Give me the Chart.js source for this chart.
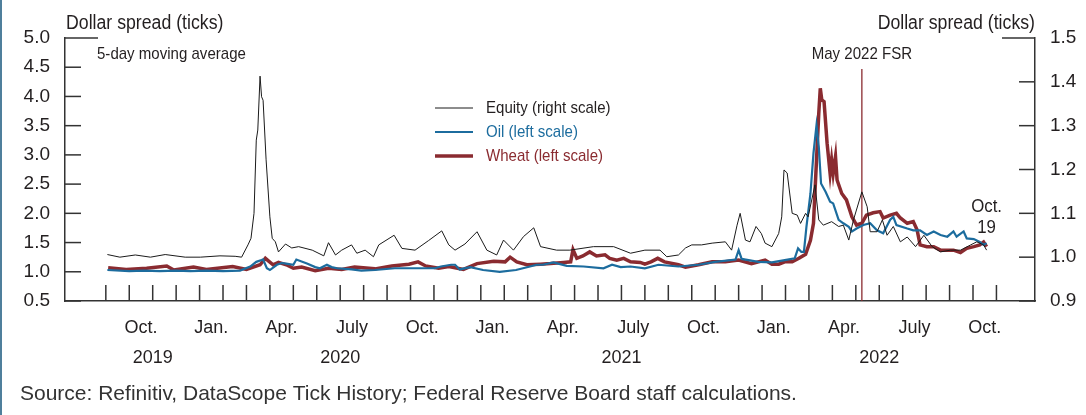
<!DOCTYPE html>
<html>
<head>
<meta charset="utf-8">
<script src="https://cdn.jsdelivr.net/npm/chart.js@4.4.0/dist/chart.umd.min.js"></script>
<style>
    html, body { margin: 0; padding: 0; background: #fff; }
    #wrap { position: relative; width: 1086px; height: 415px; }
    #wrap:before { content: ''; position: absolute; left: 0; top: 0; bottom: 0; width: 2px; background: #4f7f9c; }
</style>
</head>
<body>
<div id="wrap"><canvas id="chart" width="1086" height="415"></canvas></div>
<script>
// 5-day moving averages
const equityDates = ['2019-09-03','2019-09-19','2019-10-09','2019-10-29','2019-11-17','2019-12-13','2020-01-02','2020-01-28','2020-02-16','2020-02-24',
    '2020-03-03','2020-03-07','2020-03-11','2020-03-14','2020-03-16','2020-03-19','2020-03-21','2020-03-23','2020-03-27','2020-04-01',
    '2020-04-04','2020-04-08','2020-04-12','2020-04-21','2020-04-29','2020-05-08','2020-05-26','2020-06-10','2020-06-16','2020-06-25',
    '2020-07-03','2020-07-16','2020-07-23','2020-08-03','2020-08-14','2020-08-21','2020-09-10','2020-09-20','2020-10-07','2020-10-25',
    '2020-11-11','2020-11-20','2020-11-28','2020-12-11','2020-12-27','2021-01-09','2021-01-22','2021-01-31','2021-02-12','2021-02-24',
    '2021-03-09','2021-03-18','2021-04-08','2021-04-25','2021-05-26','2021-06-21','2021-07-13','2021-08-01','2021-08-21','2021-08-30',
    '2021-09-14','2021-09-23','2021-10-01','2021-10-14','2021-10-28','2021-11-14','2021-11-22','2021-11-29','2021-12-03','2021-12-10',
    '2021-12-16','2021-12-24','2021-12-31','2022-01-05','2022-01-14','2022-01-23','2022-01-27','2022-01-30','2022-02-03','2022-02-09',
    '2022-02-15','2022-02-19','2022-02-25','2022-02-28','2022-03-09','2022-03-14','2022-03-20','2022-03-31','2022-04-09','2022-04-15',
    '2022-04-22','2022-04-28','2022-05-09','2022-05-16','2022-05-20','2022-05-29','2022-06-05','2022-06-11','2022-06-19','2022-06-28',
    '2022-07-07','2022-07-18','2022-07-29','2022-08-09','2022-08-20','2022-09-02','2022-09-15','2022-09-28','2022-10-06','2022-10-15','2022-10-19'];
const equityValues = [1.006,1.000,1.005,1.000,1.006,1.000,1.000,1.003,1.002,1.000,
    1.028,1.043,1.100,1.267,1.290,1.413,1.366,1.358,1.222,1.092,
    1.043,1.035,1.012,1.030,1.021,1.024,1.016,1.003,1.033,1.005,
    1.016,1.028,1.009,1.016,1.001,1.028,1.050,1.020,1.016,1.038,
    1.060,1.028,1.016,1.030,1.058,1.016,1.005,1.039,1.016,1.047,
    1.067,1.024,1.016,1.016,1.024,1.024,1.009,1.016,1.016,1.001,
    1.005,1.021,1.028,1.028,1.032,1.035,1.016,1.073,1.100,1.039,
    1.035,1.070,1.054,1.032,1.024,1.054,1.092,1.199,1.192,1.100,
    1.096,1.077,1.100,1.092,1.165,1.085,1.073,1.081,1.070,1.073,
    1.039,1.085,1.149,1.115,1.058,1.058,1.085,1.050,1.070,1.035,
    1.046,1.024,1.050,1.024,1.012,1.016,1.016,1.028,1.035,1.028,1.016];

const oilDates = ['2019-09-03','2019-10-01','2019-10-20','2019-11-10','2019-12-01','2019-12-20','2020-01-10','2020-02-01','2020-02-22','2020-03-06',
    '2020-03-14','2020-03-21','2020-03-23','2020-03-28','2020-04-01','2020-04-10','2020-04-16','2020-04-22','2020-05-01','2020-05-05',
    '2020-05-19','2020-05-30','2020-06-05','2020-06-14','2020-06-20','2020-06-27','2020-07-16','2020-07-29','2020-08-16','2020-09-11',
    '2020-10-07','2020-11-02','2020-11-10','2020-11-23','2020-11-28','2020-12-04','2020-12-18','2021-01-04','2021-01-26','2021-02-15',
    '2021-03-04','2021-03-13','2021-03-21','2021-04-04','2021-04-21','2021-05-13','2021-06-08','2021-06-19','2021-06-30','2021-07-13',
    '2021-08-01','2021-08-19','2021-09-14','2021-10-10','2021-11-01','2021-11-27','2021-12-01','2021-12-05','2021-12-27','2022-01-14',
    '2022-01-31','2022-02-12','2022-02-16','2022-02-20','2022-02-23','2022-02-26','2022-03-03','2022-03-07','2022-03-11','2022-03-14',
    '2022-03-17','2022-03-23','2022-03-29','2022-04-02','2022-04-09','2022-04-15','2022-04-22','2022-04-26','2022-05-02','2022-05-11',
    '2022-05-20','2022-05-29','2022-06-06','2022-06-15','2022-06-19','2022-06-23','2022-07-07','2022-07-15','2022-07-24','2022-08-02',
    '2022-08-11','2022-08-20','2022-08-29','2022-09-06','2022-09-10','2022-09-19','2022-09-23','2022-10-02','2022-10-10','2022-10-15','2022-10-19'];
const oilValues = [1.03,1.01,1.02,1.01,1.02,1.01,1.02,1.01,1.02,1.09,
    1.17,1.20,1.21,1.06,1.03,1.12,1.15,1.14,1.12,1.21,
    1.14,1.08,1.06,1.12,1.08,1.06,1.04,1.02,1.03,1.06,
    1.06,1.06,1.09,1.12,1.12,1.04,1.08,1.03,1.00,1.03,
    1.09,1.12,1.12,1.16,1.10,1.09,1.06,1.12,1.08,1.09,
    1.06,1.12,1.09,1.12,1.17,1.21,1.37,1.22,1.17,1.16,
    1.20,1.23,1.40,1.34,1.34,1.77,2.34,3.03,3.51,3.14,
    2.51,2.37,2.20,2.17,1.89,1.83,1.77,1.69,1.74,1.80,
    1.83,1.71,1.66,1.89,1.94,1.80,1.74,1.71,1.71,1.63,
    1.69,1.63,1.60,1.69,1.60,1.69,1.57,1.56,1.51,1.46,1.49];

const wheatDates = ['2019-09-04','2019-09-27','2019-10-24','2019-11-19','2019-11-28','2019-12-24','2020-01-10','2020-02-13','2020-03-01','2020-03-19',
    '2020-03-26','2020-04-05','2020-04-12','2020-04-22','2020-05-01','2020-05-12','2020-05-30','2020-06-16','2020-07-03','2020-07-20',
    '2020-08-16','2020-09-07','2020-09-29','2020-10-11','2020-10-21','2020-11-07','2020-11-20','2020-12-09','2020-12-27','2021-01-18',
    '2021-02-02','2021-02-08','2021-02-16','2021-02-28','2021-03-18','2021-03-31','2021-04-17','2021-04-26','2021-04-29','2021-05-04',
    '2021-05-12','2021-05-21','2021-05-30','2021-06-10','2021-06-16','2021-06-25','2021-07-04','2021-07-13','2021-07-26','2021-08-01',
    '2021-08-09','2021-08-18','2021-08-27','2021-09-14','2021-09-23','2021-10-10','2021-10-28','2021-11-14','2021-12-01','2021-12-18',
    '2022-01-05','2022-01-14','2022-01-23','2022-01-31','2022-02-09','2022-02-17','2022-02-25','2022-03-03','2022-03-07','2022-03-11',
    '2022-03-14','2022-03-16','2022-03-18','2022-03-21','2022-03-25','2022-03-29','2022-03-31','2022-04-02','2022-04-05','2022-04-07',
    '2022-04-13','2022-04-19','2022-04-26','2022-05-02','2022-05-09','2022-05-15','2022-05-24','2022-06-02','2022-06-06','2022-06-15',
    '2022-06-23','2022-06-28','2022-07-07','2022-07-15','2022-07-20','2022-07-24','2022-08-02','2022-08-11','2022-08-20','2022-09-06',
    '2022-09-15','2022-09-23','2022-10-02','2022-10-10','2022-10-15','2022-10-19'];
const wheatValues = [1.07,1.04,1.06,1.10,1.03,1.08,1.04,1.09,1.04,1.12,
    1.23,1.12,1.16,1.12,1.06,1.08,1.02,1.06,1.04,1.08,
    1.05,1.10,1.13,1.17,1.10,1.06,1.09,1.04,1.14,1.18,
    1.17,1.25,1.17,1.12,1.13,1.14,1.16,1.17,1.38,1.23,
    1.27,1.34,1.27,1.29,1.23,1.20,1.23,1.17,1.16,1.13,
    1.17,1.23,1.17,1.12,1.08,1.12,1.17,1.17,1.20,1.14,
    1.20,1.13,1.13,1.17,1.17,1.23,1.30,1.54,1.83,2.91,
    3.71,4.14,3.94,3.91,3.20,2.68,2.91,2.68,2.97,2.57,
    2.34,2.23,1.94,1.80,1.83,1.97,2.01,2.03,1.92,1.97,
    2.00,1.92,1.83,1.86,1.72,1.46,1.43,1.43,1.37,1.37,
    1.33,1.40,1.43,1.46,1.51,1.43];

// axes
const leftTicks = [0.5, 1.0, 1.5, 2.0, 2.5, 3.0, 3.5, 4.0, 4.5, 5.0];
const rightTicks = [0.9, 1.0, 1.1, 1.2, 1.3, 1.4, 1.5];
const firstTick = '2019-09-01';
const lastTick = '2022-11-01';
const quarterMonths = [1, 4, 7, 10];
const quarterLabels = ['Jan.', 'Apr.', 'July', 'Oct.'];
const years = [2019, 2020, 2021, 2022];
const fsrDate = '2022-05-09';
const lastDate = '2022-10-19';

const regular = "'Liberation Sans', Arial, sans-serif";
const oilColor = '#1c6c9e';
const wheatColor = '#8a2b30';
const inkColor = '#231f20';
const squeeze = 0.885; // no condensed face installed, so narrow the text by hand

// months since Sep 2019, fractional within the month
const toMonths = s => {
    const [y, m, d] = s.split('-').map(Number);
    const dim = new Date(y, m, 0).getDate();
    return (y - 2019) * 12 + (m - 9) + (d - 1) / dim;
};
const toPoints = (dates, values) => dates.map((d, i) => ({ x: toMonths(d), y: values[i] }));

const narrowText = (ctx, text, x, y, align) => {
    ctx.save();
    ctx.translate(x, y);
    ctx.scale(squeeze, 1);
    ctx.textAlign = align;
    ctx.fillText(text, 0, 0);
    ctx.restore();
};

const decorations = {
    id: 'decorations',
    beforeDatasetsDraw(chart) {
        const { ctx, chartArea: a, scales: { x } } = chart;
        const fx = x.getPixelForValue(toMonths(fsrDate));
        ctx.save();
        ctx.strokeStyle = wheatColor;
        ctx.lineWidth = 1.3;
        ctx.beginPath();
        ctx.moveTo(fx, 69);
        ctx.lineTo(fx, a.bottom);
        ctx.stroke();
        ctx.restore();
    },
    afterDraw(chart) {
        const { ctx, chartArea: a, scales: { x, yLeft, yRight } } = chart;
        const line = (x1, y1, x2, y2) => { ctx.beginPath(); ctx.moveTo(x1, y1); ctx.lineTo(x2, y2); ctx.stroke(); };
        ctx.save();
        ctx.strokeStyle = '#333';
        ctx.lineWidth = 1.5;

        // inward tick marks
        leftTicks.forEach(v => {
            const y = yLeft.getPixelForValue(v);
            line(a.left, y, a.left + (v === 5.0 ? 33 : 16), y);
        });
        rightTicks.forEach(v => {
            const y = yRight.getPixelForValue(v);
            line(a.right, y, a.right - (v === 1.5 ? 33 : 16), y);
        });
        const m0 = toMonths(firstTick), m1 = toMonths(lastTick);
        for (let m = m0; m <= m1; m++) {
            const px = x.getPixelForValue(m);
            line(px, a.bottom, px, a.bottom - 16);
        }

        // month and year labels
        ctx.fillStyle = inkColor;
        ctx.textAlign = 'center';
        ctx.textBaseline = 'alphabetic';
        ctx.font = '18px ' + regular;
        for (let m = m0; m < m1; m++) {
            const month = ((8 + m) % 12) + 1;
            const k = quarterMonths.indexOf(month);
            if (k >= 0) ctx.fillText(quarterLabels[k], x.getPixelForValue(m + 0.5), 333);
        }
        years.forEach(yr => {
            const s = Math.max(m0, toMonths(yr + '-01-01'));
            const e = Math.min(m1, toMonths((yr + 1) + '-01-01'));
            ctx.fillText(String(yr), x.getPixelForValue((s + e) / 2), 363);
        });

        // axis titles and notes
        ctx.font = '20px ' + regular;
        narrowText(ctx, 'Dollar spread (ticks)', a.left + 1, 29, 'left');
        narrowText(ctx, 'Dollar spread (ticks)', a.right, 29, 'right');
        ctx.font = '17px ' + regular;
        narrowText(ctx, '5-day moving average', 97, 59, 'left');
        narrowText(ctx, 'May 2022 FSR', x.getPixelForValue(toMonths(fsrDate)), 59, 'center');
        ctx.font = '19px ' + regular;
        const lx = x.getPixelForValue(toMonths(lastDate));
        narrowText(ctx, 'Oct.', lx, 212, 'center');
        narrowText(ctx, '19', lx, 233, 'center');

        // legend
        ctx.font = '17px ' + regular;
        ctx.textBaseline = 'middle';
        chart.data.datasets.forEach((ds, i) => {
            const y = 108 + i * 24;
            ctx.strokeStyle = ds.borderColor;
            ctx.lineWidth = ds.borderWidth;
            line(435, y, 473, y);
            ctx.fillStyle = ds.legendText;
            narrowText(ctx, ds.label, 486, y, 'left');
        });

        // source
        ctx.fillStyle = '#333';
        ctx.textBaseline = 'alphabetic';
        ctx.textAlign = 'left';
        ctx.font = '21px ' + regular;
        ctx.fillText('Source: Refinitiv, DataScope Tick History; Federal Reserve Board staff calculations.', 20, 400);
        ctx.restore();
    }
};

new Chart(document.getElementById('chart'), {
    type: 'line',
    data: {
        datasets: [{
            label: 'Equity (right scale)',
            data: toPoints(equityDates, equityValues),
            yAxisID: 'yRight',
            borderColor: '#1a1a1a',
            legendText: inkColor,
            borderWidth: 1,
            pointRadius: 0,
            order: 0
        }, {
            label: 'Oil (left scale)',
            data: toPoints(oilDates, oilValues),
            yAxisID: 'yLeft',
            borderColor: oilColor,
            legendText: oilColor,
            borderWidth: 2.2,
            pointRadius: 0,
            order: 1
        }, {
            label: 'Wheat (left scale)',
            data: toPoints(wheatDates, wheatValues),
            yAxisID: 'yLeft',
            borderColor: wheatColor,
            legendText: wheatColor,
            borderWidth: 3.5,
            pointRadius: 0,
            order: 2
        }]
    },
    options: {
        responsive: false,
        animation: false,
        layout: { padding: { left: 0, right: 0, top: 38, bottom: 0 } },
        plugins: { legend: { display: false }, tooltip: { enabled: false } },
        scales: {
            x: {
                type: 'linear',
                min: toMonths('2019-07-09'),
                max: toMonths('2022-12-21'),
                grid: { display: false, drawTicks: false },
                border: { display: true, color: '#333', width: 1.5 },
                ticks: { display: false },
                afterFit: s => { s.height = 114; }
            },
            yLeft: {
                position: 'left',
                min: 0.5,
                max: 5.0,
                grid: { display: false, drawTicks: false },
                border: { display: true, color: '#333', width: 1.5 },
                ticks: { stepSize: 0.5, padding: 15, color: inkColor, font: { family: regular, size: 19 }, callback: v => v.toFixed(1) },
                afterFit: s => { s.width = 65; }
            },
            yRight: {
                position: 'right',
                min: 0.9,
                max: 1.5,
                grid: { display: false, drawTicks: false },
                border: { display: true, color: '#333', width: 1.5 },
                ticks: { stepSize: 0.1, padding: 15, color: inkColor, font: { family: regular, size: 19 }, callback: v => v.toFixed(1) },
                afterFit: s => { s.width = 51; }
            }
        }
    },
    plugins: [decorations]
});
</script>
</body>
</html>
